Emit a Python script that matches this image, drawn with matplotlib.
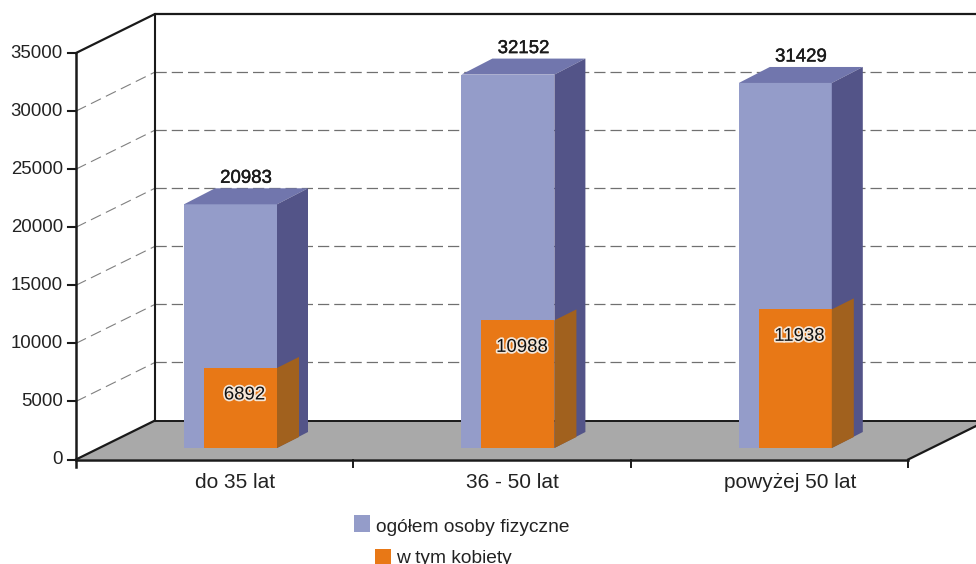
import matplotlib
matplotlib.use("Agg")
import matplotlib.pyplot as plt
import matplotlib.patheffects as pe
from matplotlib.patches import Polygon, Rectangle

plt.rcParams["font.family"] = ["Liberation Sans", "DejaVu Sans"]

categories = ["do 35 lat", "36 - 50 lat", "powyżej 50 lat"]
total_values = [20983, 32152, 31429]
women_values = [6892, 10988, 11938]
y_ticks = [0, 5000, 10000, 15000, 20000, 25000, 30000, 35000]
legend_labels = ["ogółem osoby fizyczne", "w tym kobiety"]

W, H = 976, 564
PX_X = 277.4            # pixels per category
PX_Y = 406.5 / 35000    # pixels per value
X0, Y0 = 76, 459.5      # pixel position of the chart origin


def dx(px):
  return px / PX_X


def dy(px):
  return px / PX_Y


def bar_3d(ax, left, width, bottom, value, depth_x, depth_y, front, top, side, z):
  right = left + width
  height = bottom + value
  ax.add_patch(Rectangle((left, bottom), width, value, fc=front, ec="none", zorder=z))
  # the orange inner bar has no visible top face
  if top is not None:
    ax.add_patch(Polygon([(left, height), (right, height),
                          (right + depth_x, height + depth_y),
                          (left + depth_x, height + depth_y)],
                         fc=top, ec="none", zorder=z))
  ax.add_patch(Polygon([(right, bottom), (right + depth_x, bottom + depth_y),
                        (right + depth_x, height + depth_y), (right, height)],
                       fc=side, ec="none", zorder=z))


fig = plt.figure(figsize=(W / 100, H / 100), dpi=100)
ax = fig.add_axes([0, 0, 1, 1])
ax.set_xlim(dx(-X0), dx(W - X0))
ax.set_ylim(dy(Y0 - H), dy(Y0))
ax.axis("off")

n = len(categories)
depth_x, depth_y = dx(79), dy(39)
y_max = y_ticks[-1]

# floor and walls
ax.add_patch(Polygon([(0, 0), (depth_x, depth_y), (n + depth_x, depth_y), (n, 0)],
                     fc="#a9a9a9", ec="none", zorder=1))
for t in y_ticks[1:-1]:
  ax.plot([0, depth_x], [t, t + depth_y], color="#808080", lw=0.8,
          dashes=(10, 5), zorder=2)
  ax.plot([depth_x, n + depth_x], [t + depth_y, t + depth_y], color="#707070",
          lw=0.9, dashes=(9, 4), zorder=2)

ax.plot([depth_x, depth_x], [depth_y, y_max + depth_y], color="#1a1a1a", lw=1.5, zorder=3)
ax.plot([0, depth_x, n + depth_x], [y_max, y_max + depth_y, y_max + depth_y],
        color="#1a1a1a", lw=1.6, zorder=3)
ax.plot([depth_x, n + depth_x], [depth_y, depth_y], color="#1a1a1a", lw=1.4, zorder=3)
ax.plot([0, depth_x], [0, depth_y], color="#1a1a1a", lw=1.6, zorder=3)
ax.plot([n, n + depth_x], [0, depth_y], color="#1a1a1a", lw=1.6, zorder=3)

# bars
base = dy(11.5)
for i, (total, women) in enumerate(zip(total_values, women_values)):
  bar_3d(ax, i + dx(108), dx(93), base, total, dx(31), dy(16),
         "#949cc9", "#7176ad", "#535488", 4)
  bar_3d(ax, i + dx(128), dx(73), base, women, dx(22), dy(11),
         "#e87816", None, "#a1611e", 5)
  ax.text(i + dx(170), base + total + dy(26), str(total), ha="center", va="center",
          fontsize=13.4, color="#1a1a1a", zorder=7,
          path_effects=[pe.withStroke(linewidth=0.3, foreground="#1a1a1a")])
  ax.text(i + dx(168.5), base + women - dy(27), str(women), ha="center", va="center",
          fontsize=13.4, color="#111111", zorder=7,
          path_effects=[pe.withStroke(linewidth=2.5, foreground="#f4e6d8")])

# front axes
ax.plot([0, 0], [dy(-7), y_max], color="#1a1a1a", lw=1.8, zorder=6)
ax.plot([0, n], [0, 0], color="#1a1a1a", lw=1.8, zorder=6)
for t in y_ticks:
  ax.plot([dx(-8), 0], [t, t], color="#1a1a1a", lw=1.5, zorder=6)
  ax.text(dx(-13), t, str(t), ha="right", va="center", fontsize=13.4, color="#222222")
for i in range(1, n + 1):
  ax.plot([i, i], [0, dy(-7)], color="#1a1a1a", lw=1.4, zorder=6)
for i, name in enumerate(categories):
  ax.text(i + dx(159), dy(-23), name, ha="center", va="center", fontsize=15, color="#222222")

# legend
ax.add_patch(Rectangle((dx(278), dy(-72.5)), dx(16), dy(17), fc="#949cc9", ec="none"))
ax.text(dx(300), dy(-72), legend_labels[0], va="baseline", fontsize=13.8, color="#222222")
ax.add_patch(Rectangle((dx(299), dy(-106)), dx(16), dy(17), fc="#e87816", ec="none"))
ax.text(dx(320), dy(-103.5), legend_labels[1], va="baseline", fontsize=13.8, color="#222222")

fig.savefig("out.png", dpi=100)
